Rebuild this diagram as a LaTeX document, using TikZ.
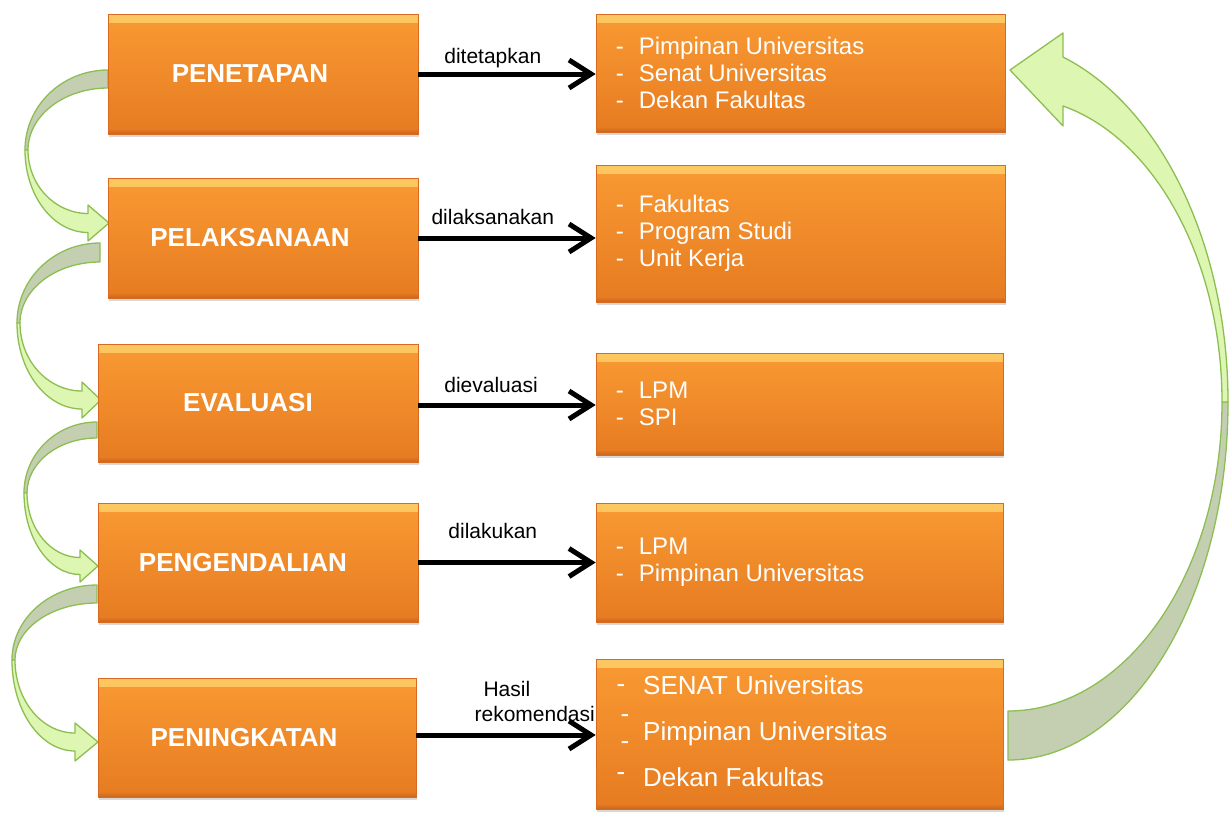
\documentclass[tikz,border=0pt]{standalone}
\usepackage{fontspec}
\setmainfont{Liberation Sans}
\usetikzlibrary{arrows.meta,shadows}
\definecolor{orA}{HTML}{F99A33}
\definecolor{orB}{HTML}{E67B21}
\definecolor{orHi}{HTML}{FCC862}
\definecolor{orLo}{HTML}{C9651C}
\definecolor{orEdge}{HTML}{D96A22}
\definecolor{gBack}{HTML}{C4CFB2}
\definecolor{gFront}{HTML}{DDF6B1}
\definecolor{gLine}{HTML}{8DBE52}
\tikzset{
  obox/.style={draw=orEdge, line width=0.6pt, top color=orA, bottom color=orB, inner sep=0pt,
    drop shadow={shadow xshift=1pt, shadow yshift=-3pt, opacity=0.3},
    path picture={
      \shade[top color=orHi, bottom color=orA] (path picture bounding box.north west) rectangle ([yshift=-8pt]path picture bounding box.north east);
      \shade[top color=orB, bottom color=orLo] ([yshift=5pt]path picture bounding box.south west) rectangle (path picture bounding box.south east);
    }},
  ltext/.style={text=white, font=\fontsize{26}{30}\selectfont\bfseries, xshift=-13pt},
  rtext/.style={text=white, font=\fontsize{24}{27}\selectfont, align=left, inner sep=0pt},
  rtextL/.style={text=white, font=\fontsize{26}{30}\selectfont, inner sep=0pt},
  lab/.style={text=black, font=\fontsize{21}{24}\selectfont, inner sep=0pt},
  conn/.style={line width=5pt, -{Straight Barb[length=22pt,width=28pt]}},
  gback/.style={fill=gBack, draw=gLine, line width=1.3pt, line join=round},
  gfront/.style={fill=gFront, draw=gLine, line width=1.3pt, line join=round}
}
% x0 ya yb L ym hx ty hw sw
\newcommand\greenloop[9]{%
  \path[gback] (#1,#2) .. controls ({#1-0.5523*(#1-#4)},#2) and (#4,{#5-0.5523*(#5-#2)}) .. (#4,#5)
     -- ({#4+3},#5) .. controls ({#4+3},{#5-0.5523*(#5-#3)}) and ({#1-0.5523*(#1-#4-3)},#3) .. (#1,#3) -- cycle;
  \path[gfront] (#4,#5) .. controls (#4,{#5+0.5523*(#7+#9-#5)}) and ({#6-0.5523*(#6-#4)},{#7+#9}) .. (#6,{#7+#9})
     -- (#6,{#7+#8}) -- ({#1+1},#7) -- (#6,{#7-#8}) -- (#6,{#7-#9})
     .. controls ({#6-0.5523*(#6-#4-3)},{#7-#9}) and ({#4+3},{#5+0.5523*(#7-#9-#5)}) .. ({#4+3},#5) -- cycle;
}
\newcommand\dl{\makebox[23pt][l]{-}}
\begin{document}
\begin{tikzpicture}[x=1pt,y=-1pt]
\useasboundingbox (0,0) rectangle (1231,812);
\fill[white] (0,0) rectangle (1231,812);

% green loop arrows (left)
\greenloop{108}{70}{88}{25}{150}{88}{223}{18}{9.5}
\greenloop{100}{243}{262}{17}{323}{82}{400}{18}{9}
\greenloop{97}{422}{438}{24}{493}{80}{566}{16}{8.5}
\greenloop{97}{585}{603}{12}{660}{75}{742}{19}{9}

% big return arrow (right)
\path[gback] (1008,711) .. controls (1126,711) and (1222,573) .. (1222,402) -- (1228,402)
   .. controls (1228,600) and (1130,760) .. (1008,760) -- cycle;
\path[gfront] (1228,402) .. controls (1228,244) and (1160,106) .. (1063,57) -- (1063,33) -- (1010,70)
   -- (1063,126) -- (1063,106) .. controls (1156,139) and (1222,262) .. (1222,402) -- cycle;

% left boxes
\node[obox, minimum width=310pt, minimum height=120pt, label={[ltext]center:PENETAPAN}] (L1) at (263,74) {};
\node[obox, minimum width=310pt, minimum height=120pt, label={[ltext]center:PELAKSANAAN}] (L2) at (263,238) {};
\node[obox, minimum width=320pt, minimum height=118pt, label={[ltext, xshift=3pt]center:EVALUASI}] (L3) at (258,403) {};
\node[obox, minimum width=320pt, minimum height=119pt, label={[ltext, xshift=-2pt]center:PENGENDALIAN}] (L4) at (258,562.5) {};
\node[obox, minimum width=318pt, minimum height=119pt, label={[ltext]center:PENINGKATAN}] (L5) at (257,737.5) {};

% right boxes
\node[obox, minimum width=409pt, minimum height=118pt] (R1) at (800.5,73) {};
\node[obox, minimum width=409pt, minimum height=137pt] (R2) at (800.5,233.5) {};
\node[obox, minimum width=407pt, minimum height=102pt] (R3) at (799.5,404) {};
\node[obox, minimum width=407pt, minimum height=119pt] (R4) at (799.5,562.5) {};
\node[obox, minimum width=407pt, minimum height=150pt] (R5) at (799.5,734) {};

% right box texts
\node[rtext, anchor=west] (T1) at ([xshift=20pt]R1.west) {\dl Pimpinan Universitas\\ \dl Senat Universitas\\ \dl Dekan Fakultas};
\node[rtext, anchor=west] (T2) at ([xshift=20pt]R2.west) {\dl Fakultas\\ \dl Program Studi\\ \dl Unit Kerja};
\node[rtext, anchor=west] (T3) at ([xshift=20pt]R3.west) {\dl LPM\\ \dl SPI};
\node[rtext, anchor=west] (T4) at ([xshift=20pt]R4.west) {\dl LPM\\ \dl Pimpinan Universitas};
\node[rtextL, anchor=base west] (T5a) at (643,694) {SENAT Universitas};
\node[rtextL, anchor=base west] (T5b) at (643,740) {Pimpinan Universitas};
\node[rtextL, anchor=base west] (T5c) at (643,786) {Dekan Fakultas};
\node[rtextL, anchor=base] (D5a) at (621,692) {-};
\node[rtextL, anchor=base] (D5b) at (625,722) {-};
\node[rtextL, anchor=base] (D5c) at (625,749) {-};
\node[rtextL, anchor=base] (D5d) at (621,780) {-};

% connectors
\draw[conn] (L1.east) -- (L1.east -| R1.west) node[lab, pos=0.42, yshift=16pt] (C1) {ditetapkan};
\draw[conn] (L2.east) -- (L2.east -| R2.west) node[lab, pos=0.42, yshift=21pt] (C2) {dilaksanakan};
\draw[conn] ([yshift=-2pt]L3.east) -- ([yshift=-2pt]L3.east -| R3.west) node[lab, pos=0.41, yshift=20pt] (C3) {dievaluasi};
\draw[conn] (L4.east) -- (L4.east -| R4.west) node[lab, pos=0.42, yshift=32pt] (C4) {dilakukan};
\draw[conn] ([yshift=2.5pt]L5.east) -- ([yshift=2.5pt]L5.east -| R5.west)
   node[lab, pos=0.505, yshift=46pt] (C5a) {Hasil}
   node[lab, pos=0.66, yshift=21pt] (C5b) {rekomendasi};
\end{tikzpicture}
\end{document}
